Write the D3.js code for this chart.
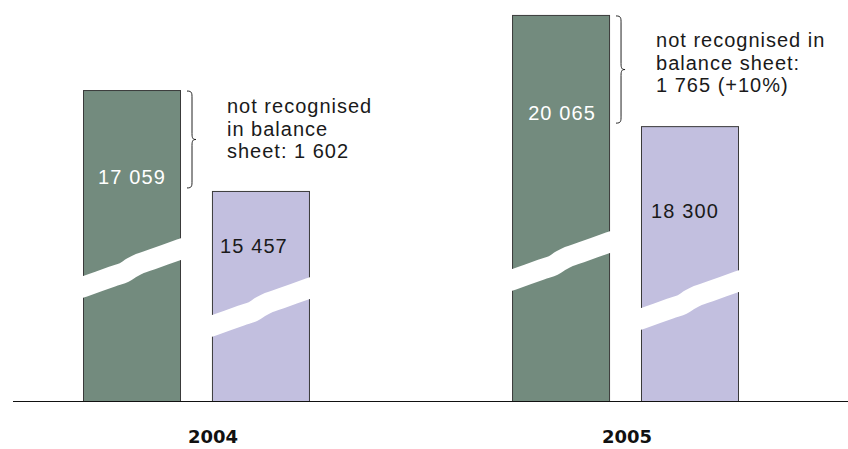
<!DOCTYPE html>
<html>
<head>
<meta charset="utf-8">
<script src="https://cdn.jsdelivr.net/npm/d3@7"></script>
<style>
  html, body { margin: 0; padding: 0; background: #fff; }
  svg { display: block; }
  text { font-family: "Liberation Sans", Arial, sans-serif; }
  text.year { font-family: "DejaVu Sans", sans-serif; font-weight: bold; }
</style>
</head>
<body>
<svg id="chart" width="848" height="449"></svg>
<script>
// Years shown and the two series per year
const years = ["2004", "2005"];
const series = ["total", "recognised"];
// Total obligation and the part recognised in the balance sheet
const totalValues = [17059, 20065];
const recognisedValues = [15457, 18300];
// Amount cut away by the axis break under each year's pair of bars
const omittedBelowBreak = [12123, 13937];
// Annotation wording next to each brace
const noteLines2004 = ["not recognised", "in balance", "sheet: {d}"];
const noteLines2005 = ["not recognised in", "balance sheet:", "{d} (+{p})"];

const W = 848, H = 449;
const baseY = 401;
const colors = { total: "#738b7e", recognised: "#c2bfdf" };

const locale = d3.formatLocale({ decimal: ".", thousands: " ", grouping: [3], currency: ["", ""] });
const fmt = locale.format(",d");

const svg = d3.select("#chart");

// Horizontal layout: one band per year, two bars inside each band
const x0 = d3.scaleBand().domain(years).range([83, 739]).paddingInner(0.471).paddingOuter(0);
const x1 = d3.scaleBand().domain(series).range([0, x0.bandwidth()]).paddingInner(0.24).paddingOuter(0);
// Vertical scale works on the part of each value above the break
const y = d3.scaleLinear().domain([0, 6000]).range([baseY, baseY - 6000 * 0.063]);
// Year labels sit under each pair
const xLabel = d3.scalePoint().domain(years).range([213, 627]);

const bars = [];
years.forEach((yr, i) => {
  bars.push({ year: yr, yi: i, key: "total", value: totalValues[i] });
  bars.push({ year: yr, yi: i, key: "recognised", value: recognisedValues[i] });
});

// Height of the break band's centre above the baseline, at the bar's left edge
const breakLift = { "2004": { total: 114, recognised: 75 }, "2005": { total: 121, recognised: 82 } };
// Label placement tweaks (px)
const labelNudge = { "2004": { total: [0, 0], recognised: [-7, 0] }, "2005": { total: [1, -22], recognised: [-5, 0] } };

const g = svg.append("g");

bars.forEach(b => {
  b.x = x0(b.year) + x1(b.key);
  b.w = x1.bandwidth();
  b.top = y(b.value - omittedBelowBreak[b.yi]);
  b.breakY = baseY - breakLift[b.year][b.key];
});

g.selectAll("rect.bar").data(bars).join("rect")
  .attr("class", "bar")
  .attr("x", d => d.x + 0.5)
  .attr("y", d => d.top + 0.5)
  .attr("width", d => d.w - 1)
  .attr("height", d => baseY - d.top)
  .attr("fill", d => colors[d.key])
  .attr("stroke", "#3a3a3a")
  .attr("stroke-width", 1);

// White wavy band marking the broken axis
const wave = [[-0.04, 1.4], [0, 0], [0.3, -10.5], [0.42, -14.5], [0.5, -19.5], [0.58, -23.5], [0.7, -27.5], [1, -38], [1.04, -39.4]];
const waveLine = d3.line().curve(d3.curveCatmullRom.alpha(0.5));
g.selectAll("path.break").data(bars).join("path")
  .attr("class", "break")
  .attr("d", d => waveLine(wave.map(([t, dy]) => [d.x + t * d.w, d.breakY + dy])))
  .attr("fill", "none")
  .attr("stroke", "#fff")
  .attr("stroke-width", 20.5)
  .attr("stroke-linecap", "butt");

// Value labels inside the bars
g.selectAll("text.val").data(bars).join("text")
  .attr("class", "val")
  .attr("x", d => d.x + d.w / 2 + labelNudge[d.year][d.key][0])
  .attr("y", d => (d.top + d.breakY - 10) / 2 + labelNudge[d.year][d.key][1])
  .attr("text-anchor", "middle")
  .attr("font-size", 20)
  .attr("letter-spacing", 1.1)
  .attr("fill", d => d.key === "total" ? "#ffffff" : "#1a1a1a")
  .text(d => fmt(d.value));

// Braces spanning the unrecognised part, with notes
function bracePath(x, yt, yb) {
  const xm = x + 5, tip = x + 9, ym = (yt + yb) / 2;
  return `M${x},${yt} C${xm},${yt} ${xm},${yt + 2} ${xm},${yt + 7}` +
         ` L${xm},${ym - 6} C${xm},${ym - 1} ${xm + 1},${ym} ${tip},${ym}` +
         ` C${xm + 1},${ym} ${xm},${ym + 1} ${xm},${ym + 6}` +
         ` L${xm},${yb - 7} C${xm},${yb - 2} ${xm},${yb} ${x},${yb}`;
}

const notes = [noteLines2004, noteLines2005];
const noteTop = [113, 47];
const lineGap = 22.5;
years.forEach((yr, i) => {
  const tb = bars.find(b => b.year === yr && b.key === "total");
  const rb = bars.find(b => b.year === yr && b.key === "recognised");
  const bx = tb.x + tb.w + 6;
  g.append("path")
    .attr("d", bracePath(bx, tb.top + 1, rb.top - 3))
    .attr("fill", "none")
    .attr("stroke", "#222")
    .attr("stroke-width", 1);
  const diff = totalValues[i] - recognisedValues[i];
  const prevDiff = i > 0 ? totalValues[i - 1] - recognisedValues[i - 1] : null;
  const pct = prevDiff ? Math.round((diff / prevDiff - 1) * 100) + "%" : "";
  notes[i].forEach((line, k) => {
    g.append("text")
      .attr("x", bx + 40)
      .attr("y", noteTop[i] + k * lineGap)
      .attr("font-size", 20)
      .attr("letter-spacing", 1.0)
      .attr("fill", "#1a1a1a")
      .text(line.replace("{d}", fmt(diff)).replace("{p}", pct));
  });
});

// Baseline
g.append("line")
  .attr("x1", 13).attr("x2", W)
  .attr("y1", baseY + 0.5).attr("y2", baseY + 0.5)
  .attr("stroke", "#111").attr("stroke-width", 1.2);

// Year labels
g.selectAll("text.year").data(years).join("text")
  .attr("class", "year")
  .attr("x", d => xLabel(d))
  .attr("y", 443)
  .attr("text-anchor", "middle")
  .attr("font-size", 18)
  .attr("fill", "#111")
  .text(d => d);
</script>
</body>
</html>
